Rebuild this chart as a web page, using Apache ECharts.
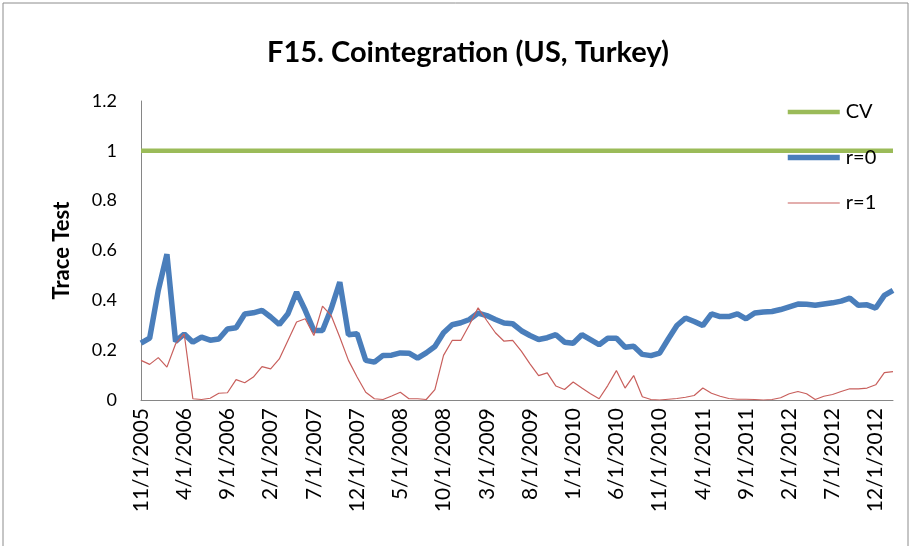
<!DOCTYPE html>
<html>
<head>
<meta charset="utf-8">
<script src="https://cdn.jsdelivr.net/npm/echarts@6/dist/echarts.min.js"></script>
<style>html,body{margin:0;padding:0;background:#fff}#c{width:912px;height:546px}</style>
</head>
<body>
<div id="c"></div>
<script>
var categories = [
'11/1/2005','12/1/2005',
'1/1/2006','2/1/2006','3/1/2006','4/1/2006','5/1/2006','6/1/2006','7/1/2006','8/1/2006','9/1/2006','10/1/2006','11/1/2006','12/1/2006',
'1/1/2007','2/1/2007','3/1/2007','4/1/2007','5/1/2007','6/1/2007','7/1/2007','8/1/2007','9/1/2007','10/1/2007','11/1/2007','12/1/2007',
'1/1/2008','2/1/2008','3/1/2008','4/1/2008','5/1/2008','6/1/2008','7/1/2008','8/1/2008','9/1/2008','10/1/2008','11/1/2008','12/1/2008',
'1/1/2009','2/1/2009','3/1/2009','4/1/2009','5/1/2009','6/1/2009','7/1/2009','8/1/2009','9/1/2009','10/1/2009','11/1/2009','12/1/2009',
'1/1/2010','2/1/2010','3/1/2010','4/1/2010','5/1/2010','6/1/2010','7/1/2010','8/1/2010','9/1/2010','10/1/2010','11/1/2010','12/1/2010',
'1/1/2011','2/1/2011','3/1/2011','4/1/2011','5/1/2011','6/1/2011','7/1/2011','8/1/2011','9/1/2011','10/1/2011','11/1/2011','12/1/2011',
'1/1/2012','2/1/2012','3/1/2012','4/1/2012','5/1/2012','6/1/2012','7/1/2012','8/1/2012','9/1/2012','10/1/2012','11/1/2012','12/1/2012',
'1/1/2013','2/1/2013'
];
var cv = [
1,1,1,1,1,1,1,1,1,1,1,1,1,1,1,1,1,1,1,1,1,1,1,1,1,1,1,1,1,1,1,1,1,1,1,1,1,1,1,1,1,1,1,1,
1,1,1,1,1,1,1,1,1,1,1,1,1,1,1,1,1,1,1,1,1,1,1,1,1,1,1,1,1,1,1,1,1,1,1,1,1,1,1,1,1,1,1,1
];
var r0 = [
0.228,0.248,0.44,0.585,0.235,0.265,0.232,0.252,0.24,0.245,
0.285,0.29,0.345,0.35,0.36,0.333,0.303,0.346,0.433,0.36,
0.279,0.279,0.366,0.473,0.262,0.266,0.159,0.152,0.179,0.18,
0.189,0.188,0.168,0.189,0.215,0.27,0.302,0.31,0.323,0.349,
0.339,0.323,0.309,0.306,0.278,0.259,0.243,0.25,0.262,0.232,
0.228,0.262,0.242,0.222,0.248,0.248,0.212,0.216,0.183,0.178,
0.188,0.245,0.299,0.329,0.315,0.299,0.346,0.335,0.335,0.346,
0.326,0.349,0.353,0.355,0.363,0.374,0.385,0.384,0.38,0.385,
0.39,0.397,0.409,0.38,0.382,0.369,0.42,0.44
];
var r1 = [
0.159,0.143,0.17,0.132,0.225,0.265,0.005,0.002,0.007,0.027,
0.029,0.082,0.069,0.092,0.134,0.125,0.165,0.239,0.313,0.326,
0.259,0.377,0.339,0.252,0.159,0.092,0.031,0.005,0.002,0.016,
0.031,0.005,0.005,0.002,0.042,0.179,0.239,0.239,0.302,0.37,
0.319,0.27,0.236,0.239,0.196,0.145,0.098,0.109,0.056,0.042,
0.072,0.048,0.025,0.005,0.058,0.118,0.048,0.098,0.013,0.002,
0,0.003,0.006,0.011,0.018,0.048,0.027,0.015,0.006,0.003,
0.003,0.002,0,0.002,0.009,0.025,0.034,0.025,0.002,0.015,
0.022,0.034,0.045,0.045,0.048,0.061,0.11,0.114
];
var yTicks = [0, 0.2, 0.4, 0.6, 0.8, 1, 1.2];

var FONT = 'Lato, "Liberation Sans", sans-serif';
var GREEN = '#9BBB59', BLUE = '#4A7EBB', RED = '#C85F5C';
var chart = echarts.init(document.getElementById('c'), null, {renderer: 'canvas'});
chart.setOption({
  animation: false,
  backgroundColor: '#ffffff',
  textStyle: {fontFamily: FONT},
  title: {
    text: 'F15. Cointegration (US, Turkey)',
    left: 463, top: 33, textAlign: 'center',
    textStyle: {fontFamily: FONT, fontSize: 29, fontWeight: 'bold', color: '#000'}
  },
  graphic: [{
    type: 'rect', shape: {x: 3, y: 3, width: 905, height: 560},
    style: {fill: 'none', stroke: '#8c8c8c', lineWidth: 1}, silent: true
  }],
  legend: {
    orient: 'vertical', left: 785, top: 102, padding: 0,
    itemWidth: 52, itemHeight: 20, itemGap: 25.5,
    itemStyle: {opacity: 0, borderWidth: 0},
    textStyle: {fontFamily: FONT, fontSize: 20, lineHeight: 20, color: '#000', padding: [0, 0, 0, 1]},
    data: [
      {name: 'CV', lineStyle: {width: 4.5, color: GREEN}},
      {name: 'r=0', lineStyle: {width: 5.5, color: BLUE}},
      {name: 'r=1', lineStyle: {width: 1.2, color: RED}}
    ]
  },
  grid: {left: 141, right: 19, top: 101, bottom: 146, containLabel: false},
  xAxis: {
    type: 'category', data: categories, boundaryGap: false,
    axisLine: {lineStyle: {color: '#868686', width: 1}},
    axisTick: {show: false},
    axisLabel: {interval: 4, rotate: 90, margin: 8, fontSize: 21, color: '#000', fontFamily: FONT},
    splitLine: {show: false}
  },
  yAxis: {
    type: 'value', min: yTicks[0], max: yTicks[yTicks.length - 1], interval: 0.2,
    name: 'Trace Test', nameLocation: 'middle', nameGap: 68,
    nameTextStyle: {fontFamily: FONT, fontSize: 22, fontWeight: 'bold', color: '#000'},
    axisLine: {show: true, lineStyle: {color: '#868686', width: 1}},
    axisTick: {show: false},
    axisLabel: {fontSize: 18, color: '#000', margin: 24, fontFamily: FONT},
    splitLine: {show: false}
  },
  series: [
    {name: 'CV', type: 'line', data: cv, symbol: 'none', lineStyle: {color: GREEN, width: 4.5}, itemStyle: {color: GREEN}},
    {name: 'r=0', type: 'line', data: r0, symbol: 'none', lineStyle: {color: BLUE, width: 5.5}, itemStyle: {color: BLUE}},
    {name: 'r=1', type: 'line', data: r1, symbol: 'none', lineStyle: {color: RED, width: 1.2}, itemStyle: {color: RED}}
  ]
});
</script>
</body>
</html>
